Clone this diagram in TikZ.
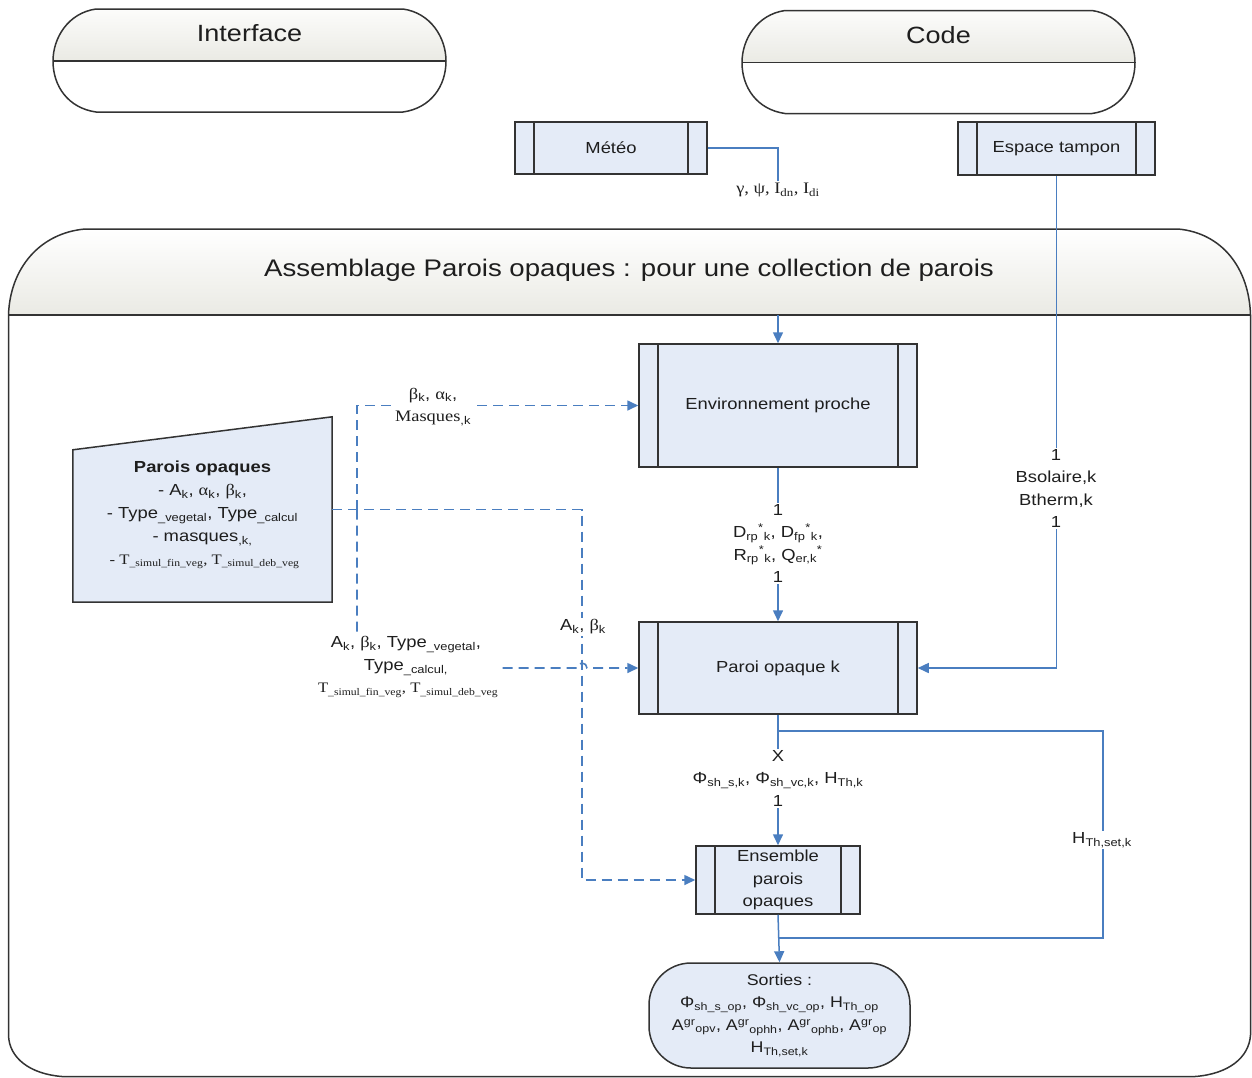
\documentclass[tikz,border=0pt]{standalone}
\usepackage{fontspec}
\setmainfont{Liberation Sans}[FakeStretch=1.15]
\newfontfamily\serifx{Liberation Serif}[FakeStretch=1.15]
\usetikzlibrary{arrows.meta,calc}
\definecolor{conn}{HTML}{4A7EC0}
\definecolor{boxfill}{HTML}{E4EBF7}
\definecolor{boxline}{HTML}{333333}
\definecolor{hdrbot}{HTML}{EAEAE4}
\definecolor{txt}{HTML}{1E1E1E}
\newcommand\fsz[2]{\fontsize{#1}{#2}\selectfont}
\begin{document}
\begin{tikzpicture}[x=1pt,y=-1pt,
  outl/.style={draw=boxline,line width=1.5pt},
  subproc/.style={outl,fill=boxfill,inner sep=0pt,text=txt,font=\fsz{16}{22.5},align=center,
    path picture={\draw[boxline,line width=1.4pt]
      ([xshift=19pt]path picture bounding box.north west) -- ([xshift=19pt]path picture bounding box.south west)
      ([xshift=-19pt]path picture bounding box.north east) -- ([xshift=-19pt]path picture bounding box.south east);}},
  flow/.style={draw=conn,line width=1.5pt,-{Triangle[length=11pt,width=10pt]}},
  link/.style={draw=conn,line width=1.5pt},
  dflow/.style={flow,line width=1.6pt,dash pattern=on 10pt off 6pt},
  lbl/.style={fill=white,inner sep=1.5pt,align=center,text=txt,font=\fsz{16}{22.5}},
  title/.style={text=txt,inner sep=0pt}]
\useasboundingbox (0,0) rectangle (1252,1077);
\fill[white] (0,0) rectangle (1252,1077);

% ---------- main container ----------
\def\mainpath{(85,229) -- (1178,229) .. controls (1222,233) and (1249,268) .. (1250.5,315) -- (1250.5,1035) .. controls (1249,1058) and (1228,1074) .. (1195,1076.5) -- (62,1076.5) .. controls (30,1074) and (9,1058) .. (8.5,1035) -- (8.5,315) .. controls (10,268) and (40,233) .. (85,229) -- cycle}
\fill[white] \mainpath;
\begin{scope}
  \clip \mainpath;
  \shade[top color=white,bottom color=hdrbot] (0,229) rectangle (1252,315);
\end{scope}
\draw[outl] \mainpath;
\draw[outl] (8.5,315) -- (1250.5,315);
\coordinate (maindiv) at (629,315);
\node[title,font=\fsz{24}{28}] (hdrMain) at (629,270) {Assemblage Parois opaques : pour une collection de parois};

% ---------- swimlane headers ----------
\def\lanepath{(96,9) -- (403,9) .. controls (431,13) and (446,38) .. (446,61) .. controls (446,86) and (431,108) .. (403,112) -- (96,112) .. controls (68,108) and (53,86) .. (53,61) .. controls (53,38) and (68,13) .. (96,9) -- cycle}
\foreach \dx/\dy in {0/0,689/1.5}{
  \begin{scope}[shift={(\dx,\dy)}]
    \fill[white] \lanepath;
    \begin{scope}
      \clip \lanepath;
      \shade[top color=white,bottom color=hdrbot] (40,0) rectangle (460,61);
    \end{scope}
    \draw[outl] \lanepath;
    \draw[outl] (53,61) -- (446,61);
  \end{scope}
}
\node[title,font=\fsz{23.5}{28}] (hdrIface) at (249.5,33) {Interface};
\node[title,font=\fsz{23.5}{28}] (hdrCode) at (938.5,35) {Code};

% ---------- boxes ----------
\node[subproc,minimum width=192pt,minimum height=52pt] (meteo) at (611,148) {Météo};
\node[subproc,minimum width=197pt,minimum height=53pt] (espace) at (1056.5,148.5) {Espace tampon};
\node[subproc,minimum width=278pt,minimum height=123pt] (env) at (778,405.5) {Environnement proche};
\node[subproc,minimum width=278pt,minimum height=92pt] (paroi) at (778,668) {Paroi opaque k};
\node[subproc,minimum width=164pt,minimum height=68pt] (ens) at (778,880) {Ensemble\\parois\\opaques};
\node[outl,fill=boxfill,rounded corners=42pt,minimum width=261pt,minimum height=105pt,inner sep=0pt,
      align=center,text=txt,font=\fsz{15.5}{22.5}] (sorties) at (779.5,1015.5)
  {Sorties :\\
   Φ\textsubscript{sh\_s\_op}, Φ\textsubscript{sh\_vc\_op}, H\textsubscript{Th\_op}\\
   A\textsuperscript{gr}\textsubscript{opv}, A\textsuperscript{gr}\textsubscript{ophh}, A\textsuperscript{gr}\textsubscript{ophb}, A\textsuperscript{gr}\textsubscript{op}\\
   H\textsubscript{Th,set,k}};

% manual input shape
\node[minimum width=259pt,minimum height=185pt,inner sep=0pt] (parois) at (202.5,509.5) {};
\filldraw[outl,fill=boxfill] (parois.south west) -- ([yshift=-33pt]parois.north west) -- (parois.north east) -- (parois.south east) -- cycle;
\node[title,align=center,font=\fsz{16}{23}] (paroistxt) at (202.5,515)
  {\textbf{Parois opaques}\\
   - A\textsubscript{k}, {\serifx α}\textsubscript{k}, {\serifx β}\textsubscript{k},\\
   - Type\textsubscript{\_vegetal}, Type\textsubscript{\_calcul}\\
   - masques\textsubscript{,k,}\\
   {\serifx\fsz{14.5}{23} - T\textsubscript{\_simul\_fin\_veg}, T\textsubscript{\_simul\_deb\_veg}}};

% ---------- coordinates ----------
\coordinate (dA) at (357,509.5);
\coordinate (dB) at (582,509.5);
\coordinate (loopA) at (778,731);
\coordinate (loopB) at (1103,731);
\coordinate (loopC) at (1103,938);
\coordinate (loopD) at (778,938);

% ---------- solid connectors ----------
\node[lbl,font=\serifx\fsz{16}{22.5}] (lblMet) at (778,190) {γ, ψ, I\textsubscript{dn}, I\textsubscript{di}};
\draw[link] (meteo.east) -| (lblMet.north);
\draw[flow] (env.north |- maindiv) -- (env.north);
\draw[flow] (espace.south) |- (paroi.east);
\draw[flow] (env.south) -- (paroi.north);
\draw[flow] (paroi.south) -- (ens.north);
\draw[link] (loopA) -- (loopB) -- (loopC) -- (loopD);
\draw[flow] (ens.south) -- (sorties.north);

% ---------- dashed connectors ----------
\draw[dflow] (parois.east) -- (dB) |- (ens.west);
\draw[dflow] (dA) |- (env.west);
\draw[dflow] (dA) -- (dA |- paroi.west) -- ([xshift=-5pt]dB |- paroi.west) arc[start angle=180,end angle=0,radius=5pt] -- (paroi.west);

% ---------- labels ----------
\node[lbl] (lblEsp) at (1056,488.5) {1\\Bsolaire,k\\Btherm,k\\1};
\node[lbl] (lblEnv) at (778,543.5)
  {1\\D\textsubscript{rp}\textsuperscript{*}\textsubscript{k}, D\textsubscript{fp}\textsuperscript{*}\textsubscript{k},\\
   R\textsubscript{rp}\textsuperscript{*}\textsubscript{k}, Q\textsubscript{er,k}\textsuperscript{*}\\1};
\node[lbl] (lblPar) at (778,778)
  {X\\Φ\textsubscript{sh\_s,k}, Φ\textsubscript{sh\_vc,k}, H\textsubscript{Th,k}\\1};
\node[lbl] (lblHth) at (1102,840) {H\textsubscript{Th,set,k}};
\node[lbl] (lblBeta) at (433,407)
  {{\serifx β}\textsubscript{k}, {\serifx α}\textsubscript{k},\\{\serifx Masques}\textsubscript{,k}};
\node[lbl] (lblAkBk) at (583,627) {A\textsubscript{k}, {\serifx β}\textsubscript{k}};
\node[lbl] (lblBig) at (406,667)
  {A\textsubscript{k}, {\serifx β}\textsubscript{k}, Type\textsubscript{\_vegetal},\\
   Type\textsubscript{\_calcul,}\\
   {\serifx\fsz{14.5}{22} T\textsubscript{\_simul\_fin\_veg}, T\textsubscript{\_simul\_deb\_veg}}};
\end{tikzpicture}
\end{document}
